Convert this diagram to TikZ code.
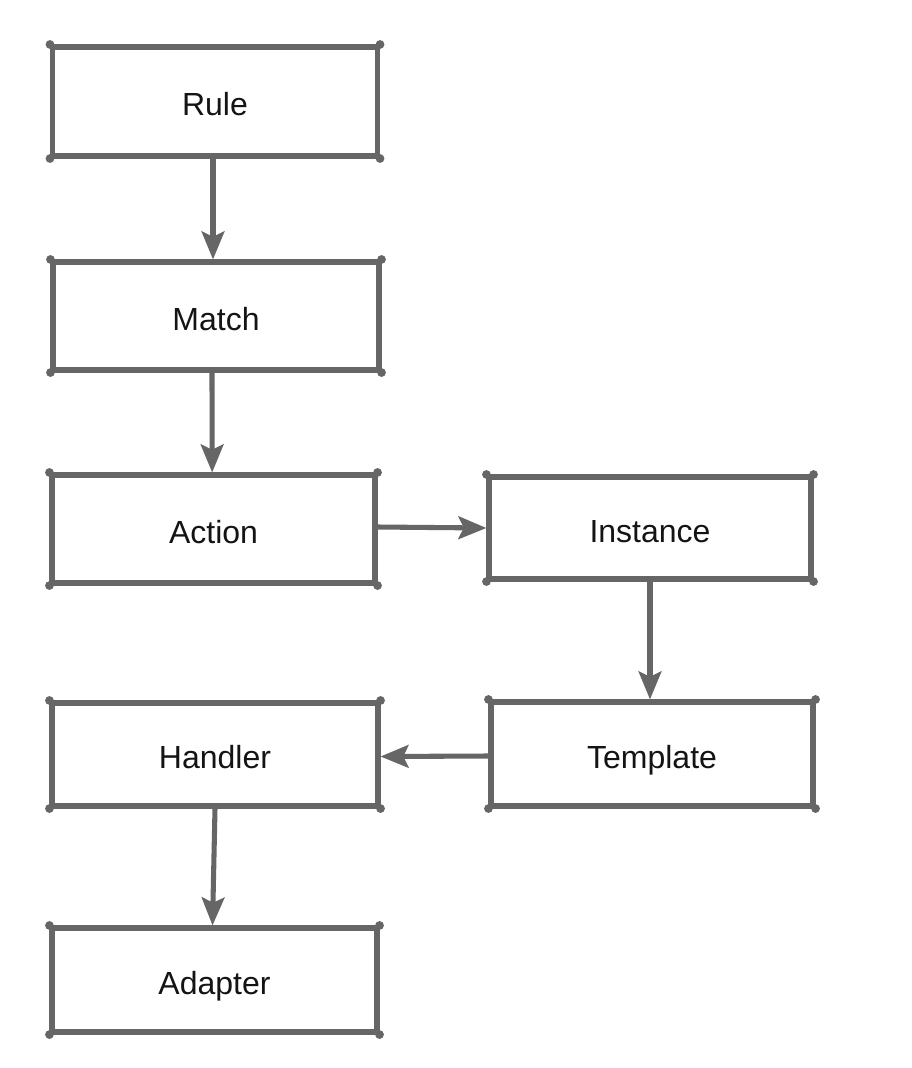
\documentclass[tikz,border=0pt]{standalone}
\usepackage{fontspec}
\setmainfont{Liberation Sans}
\usetikzlibrary{arrows.meta}
\definecolor{linegray}{RGB}{102,102,102}
\definecolor{textdark}{RGB}{20,20,20}
\begin{document}
\begin{tikzpicture}[x=0.75pt,y=-0.75pt,
  box/.style={draw=linegray, line width=3.8pt, rectangle, inner sep=0pt,
    text height=21pt, text depth=0pt,
    minimum width=243.75pt, minimum height=81pt, font=\fontsize{24}{26}\selectfont, text=textdark},
  conn/.style={draw=linegray, line width=3.8pt, -{Stealth[length=21pt,width=17pt,inset=4pt]}},
  dot/.style={fill=linegray, draw=none}]
\useasboundingbox (0,0) rectangle (912,1068);
\node[box, minimum width=243.75pt, minimum height=81.75pt] (rule) at (215,101.5) {Rule};
\node[box, minimum width=244.5pt, minimum height=81pt] (match) at (216,316) {Match};
\node[box, minimum width=242.25pt, minimum height=81pt] (action) at (213.5,529) {Action};
\node[box, minimum width=241.5pt, minimum height=76.5pt] (instance) at (650,528) {Instance};
\node[box, minimum width=241.5pt, minimum height=78pt] (template) at (652,754) {Template};
\node[box, minimum width=244.5pt, minimum height=77.25pt] (handler) at (215,754.5) {Handler};
\node[box, minimum width=243.75pt, minimum height=78pt] (adapter) at (214.5,980) {Adapter};
\foreach \n in {rule,match,action,instance,template,handler,adapter}{
  \foreach \a in {north west,north east,south west,south east}{
    \fill[dot] (\n.\a) circle[radius=3.3pt];
  }
}
\draw[conn] ([xshift=-1.5pt]rule.south) -- ([xshift=-2.25pt]match.north);
\draw[conn] ([xshift=-3pt]match.south) -- ([xshift=-1pt]action.north);
\draw[conn] ([yshift=1.5pt]action.east) -- ([yshift=0pt]instance.west);
\draw[conn] (instance.south) -- ([xshift=-1.5pt]template.north);
\draw[conn] ([yshift=-1.5pt]template.west) -- ([yshift=-1.5pt]handler.east);
\draw[conn] ([xshift=0pt]handler.south) -- ([xshift=-1.5pt]adapter.north);
\end{tikzpicture}
\end{document}
